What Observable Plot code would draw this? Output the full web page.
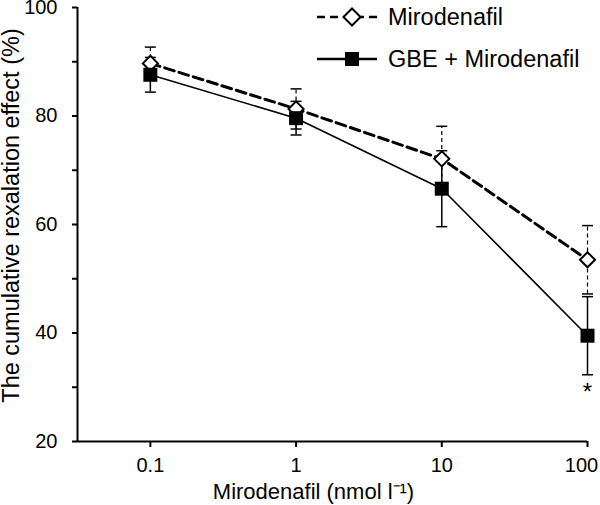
<!DOCTYPE html>
<html>
<head>
<meta charset="utf-8">
<script src="https://cdn.jsdelivr.net/npm/d3@7"></script>
<script src="https://cdn.jsdelivr.net/npm/@observablehq/plot@0.6"></script>
<style>
  html, body { margin: 0; padding: 0; background: #fff; }
  #wrap { position: relative; width: 600px; height: 505px; font-family: "Liberation Sans", Arial, sans-serif; }
  #chart svg { overflow: visible; }
  #legend { position: absolute; left: 312px; top: -4px; }
  #legend .row { display: flex; align-items: center; height: 42px; font-size: 23.5px; color: #000; }
  #legend svg { margin-right: 8px; }
</style>
</head>
<body>
<div id="wrap">
  <div id="chart"></div>
  <div id="legend"></div>
</div>
<script>
// ---- data ----
const concentrations = [0.1, 1, 10, 100];
const concentrationLabels = ["0.1", "1", "10", "100"];
const seriesNames = ["Mirodenafil", "GBE + Mirodenafil"];
const mirodenafilMean = [89.7, 81.3, 72.1, 53.5];
const mirodenafilErr = [3.0, 3.7, 6.0, 6.3];
const gbeMean = [87.6, 79.6, 66.6, 39.5];
const gbeErr = [3.2, 3.1, 7.0, 7.2];
const significance = ["", "", "", "*"];
const yTicks = [20, 30, 40, 50, 60, 70, 80, 90, 100];
const yTitle = "The cumulative rexalation effect (%)";
const xTitle = "Mirodenafil (nmol l\u207B\u00B9)";

// ---- table ----
const rows = [];
concentrations.forEach((c, i) => {
  rows.push({series: seriesNames[0], x: c, y: mirodenafilMean[i], lo: mirodenafilMean[i] - mirodenafilErr[i], hi: mirodenafilMean[i] + mirodenafilErr[i], sig: ""});
  rows.push({series: seriesNames[1], x: c, y: gbeMean[i], lo: gbeMean[i] - gbeErr[i], hi: gbeMean[i] + gbeErr[i], sig: significance[i]});
});
const miro = rows.filter(d => d.series === seriesNames[0]);
const gbe = rows.filter(d => d.series === seriesNames[1]);

const capSymbol = {
  draw(ctx, size) {
    const w = Math.sqrt(size) / 2;
    ctx.moveTo(-w, 0);
    ctx.lineTo(w, 0);
  }
};
const capR = 6.2;
const xMin = Math.pow(10, -1.5);

const chart = Plot.plot({
  width: 600,
  height: 505,
  marginLeft: 77,
  marginRight: 13,
  marginTop: 7,
  marginBottom: 64,
  style: {fontFamily: "'Liberation Sans', Arial, sans-serif", color: "#000", background: "#fff"},
  x: {type: "log", domain: [xMin, 100]},
  y: {domain: [20, 100]},
  marks: [
    // error bars
    Plot.ruleX(miro, {x: "x", y1: "lo", y2: "hi", stroke: "#000", strokeWidth: 1.2, strokeDasharray: "4,3"}),
    Plot.ruleX(gbe, {x: "x", y1: "lo", y2: "hi", stroke: "#000", strokeWidth: 1.5}),
    Plot.dot(miro, {x: "x", y: "hi", symbol: capSymbol, r: capR, stroke: "#000", strokeWidth: 1.5, fill: "none"}),
    Plot.dot(miro, {x: "x", y: "lo", symbol: capSymbol, r: capR, stroke: "#000", strokeWidth: 1.5, fill: "none"}),
    Plot.dot(gbe, {x: "x", y: "hi", symbol: capSymbol, r: capR, stroke: "#000", strokeWidth: 1.5, fill: "none"}),
    Plot.dot(gbe, {x: "x", y: "lo", symbol: capSymbol, r: capR, stroke: "#000", strokeWidth: 1.5, fill: "none"}),
    // lines
    Plot.line(miro, {x: "x", y: "y", stroke: "#000", strokeWidth: 3, strokeDasharray: "10,5"}),
    Plot.line(gbe, {x: "x", y: "y", stroke: "#000", strokeWidth: 1.6}),
    // markers
    Plot.dot(miro, {x: "x", y: "y", symbol: "diamond2", r: 6.8, fill: "#fff", stroke: "#000", strokeWidth: 2}),
    Plot.dot(gbe, {x: "x", y: "y", symbol: "square", r: 7.9, fill: "#000", stroke: "none"}),
    // significance
    Plot.text(gbe, {x: "x", y: "lo", text: "sig", dy: 18, fontSize: 24, fill: "#000"}),
    // axes
    Plot.ruleX([xMin], {stroke: "#000", strokeWidth: 2}),
    Plot.ruleY([20], {stroke: "#000", strokeWidth: 2}),
    Plot.axisY({ticks: yTicks, tickFormat: d => (d % 20 === 0 ? String(d) : ""), tickSize: 5, tickPadding: 15, fontSize: 20, strokeWidth: 2, label: null}),
    Plot.axisX({ticks: concentrations, tickFormat: d => concentrationLabels[concentrations.indexOf(d)], tickSize: 6, tickPadding: 10, fontSize: 20, strokeWidth: 2, label: null}),
    // axis titles
    Plot.text([xTitle], {frameAnchor: "bottom", lineAnchor: "middle", textAnchor: "middle", dx: -19, dy: 50, fontSize: 22, fill: "#000"}),
    Plot.text([yTitle], {frameAnchor: "left", rotate: -90, lineAnchor: "middle", textAnchor: "middle", dx: -66.5, dy: -9, fontSize: 23.5, fill: "#000"})
  ]
});
document.getElementById("chart").appendChild(chart);
// nudge the last x tick label left, as in the reference
const xLabels = chart.querySelectorAll("[aria-label='x-axis tick label'] text");
if (xLabels.length) {
  const last = xLabels[xLabels.length - 1];
  last.setAttribute("dx", "-6");
}

// ---- legend (HTML overlay) ----
const legend = document.getElementById("legend");
const legendItems = [
  {name: seriesNames[0], dashed: true},
  {name: seriesNames[1], dashed: false}
];
legendItems.forEach(item => {
  const row = document.createElement("div");
  row.className = "row";
  const ns = "http://www.w3.org/2000/svg";
  const svg = document.createElementNS(ns, "svg");
  svg.setAttribute("width", 68);
  svg.setAttribute("height", 24);
  const line = document.createElementNS(ns, "line");
  line.setAttribute("x1", 5); line.setAttribute("x2", 65);
  line.setAttribute("y1", 12); line.setAttribute("y2", 12);
  line.setAttribute("stroke", "#000");
  line.setAttribute("stroke-width", 2.5);
  if (item.dashed) line.setAttribute("stroke-dasharray", "8,5");
  svg.appendChild(line);
  if (item.dashed) {
    const p = document.createElementNS(ns, "path");
    p.setAttribute("d", "M31.5,12 L40,3.5 L48.5,12 L40,20.5 Z");
    p.setAttribute("fill", "#fff"); p.setAttribute("stroke", "#000"); p.setAttribute("stroke-width", 2);
    svg.appendChild(p);
  } else {
    const r = document.createElementNS(ns, "rect");
    r.setAttribute("x", 33); r.setAttribute("y", 5); r.setAttribute("width", 14); r.setAttribute("height", 14);
    r.setAttribute("fill", "#000");
    svg.appendChild(r);
  }
  row.appendChild(svg);
  const span = document.createElement("span");
  span.textContent = item.name;
  row.appendChild(span);
  legend.appendChild(row);
});
</script>
</body>
</html>
